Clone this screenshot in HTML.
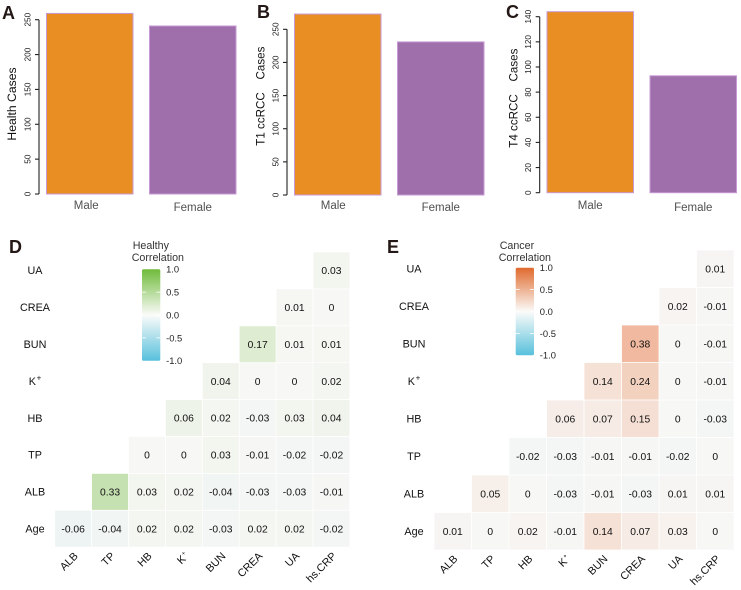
<!DOCTYPE html>
<html lang="en">
<head>
<meta charset="utf-8">
<title>Cases by sex and correlation heatmaps</title>
<style>
html,body{margin:0;padding:0;background:#fff;}
svg{display:block;font-family:"Liberation Sans",Arial,sans-serif;filter:blur(0.3px);}
</style>
</head>
<body>
<svg id="figure" width="741" height="590" viewBox="0 0 741 590" xmlns="http://www.w3.org/2000/svg">
  <defs>
    <linearGradient id="healthy-gradient" x1="0" y1="0" x2="0" y2="1">
      <stop offset="0" stop-color="#6fbb3b"/>
      <stop offset="0.5" stop-color="#fbfbf9"/>
      <stop offset="1" stop-color="#58c0dc"/>
    </linearGradient>
    <linearGradient id="cancer-gradient" x1="0" y1="0" x2="0" y2="1">
      <stop offset="0" stop-color="#e06a2e"/>
      <stop offset="0.5" stop-color="#fbfbf9"/>
      <stop offset="1" stop-color="#58c0dc"/>
    </linearGradient>
  </defs>
</svg>
<script>
const barCategories = ['Male', 'Female'];
const healthCases = [259, 241];
const t1Cases = [273, 231];
const t4Cases = [144, 93];
const healthTicks = [0, 50, 100, 150, 200, 250];
const t1Ticks = [0, 50, 100, 150, 200, 250];
const t4Ticks = [0, 20, 40, 60, 80, 100, 120, 140];

const columnLabels = ['ALB', 'TP', 'HB', 'K', 'BUN', 'CREA', 'UA', 'hs.CRP'];
const rowLabels = ['UA', 'CREA', 'BUN', 'K', 'HB', 'TP', 'ALB', 'Age'];
const healthyValues = [
  [null, null, null, null, null, null, null, 0.03],
  [null, null, null, null, null, null, 0.01, 0],
  [null, null, null, null, null, 0.17, 0.01, 0.01],
  [null, null, null, null, 0.04, 0, 0, 0.02],
  [null, null, null, 0.06, 0.02, -0.03, 0.03, 0.04],
  [null, null, 0, 0, 0.03, -0.01, -0.02, -0.02],
  [null, 0.33, 0.03, 0.02, -0.04, -0.03, -0.03, -0.01],
  [-0.06, -0.04, 0.02, 0.02, -0.03, 0.02, 0.02, -0.02]
];
const cancerValues = [
  [null, null, null, null, null, null, null, 0.01],
  [null, null, null, null, null, null, 0.02, -0.01],
  [null, null, null, null, null, 0.38, 0, -0.01],
  [null, null, null, null, 0.14, 0.24, 0, -0.01],
  [null, null, null, 0.06, 0.07, 0.15, 0, -0.03],
  [null, null, -0.02, -0.03, -0.01, -0.01, -0.02, 0],
  [null, 0.05, 0, -0.03, -0.01, -0.03, 0.01, 0.01],
  [0.01, 0, 0.02, -0.01, 0.14, 0.07, 0.03, 0]
];
const legendTicks = [1, 0.5, 0, -0.5, -1];

const svg = document.getElementById('figure');
const NS = 'http://www.w3.org/2000/svg';

function make(tag, attrs, parent, content) {
  const el = document.createElementNS(NS, tag);
  for (const k in attrs) el.setAttribute(k, attrs[k]);
  if (content !== undefined) el.textContent = content;
  (parent || svg).appendChild(el);
  return el;
}
function group(name) {
  const g = make('g', {});
  
  
  return g;
}
function label(parent, name, str, attrs) {
  const t = make('text', attrs, parent, str);
  
  
  return t;
}
function panelLetter(str, x, y) {
  label(svg, 'panel-label-' + str.toLowerCase(), str, {x: x, y: y, 'font-size': 18, 'font-weight': 'bold', fill: '#231815'});
}
function verticalLabel(parent, name, str, x, y, size, fill) {
  label(parent, name, str, {
    x: x, y: y, 'font-size': size, fill: fill, 'text-anchor': 'middle',
    'dominant-baseline': 'central', transform: 'rotate(-90 ' + x + ' ' + y + ')'
  });
}

function drawBars(name, values, ticks, layout, titles) {
  const g = group(name);
  const domainMax = ticks[ticks.length - 1];
  const y = v => layout.y0 - (layout.y0 - layout.yMax) * v / domainMax;
  const fills = ['#e88e22', '#9e6fab'];
  values.forEach(function (v, i) {
    const x = layout.barX[i];
    const bar = make('rect', {
      x: x, y: y(v), width: layout.barW, height: layout.y0 - y(v),
      fill: fills[i], stroke: '#c79ad6', 'stroke-width': 1
    }, g);
    
    
    label(g, 'category-label-' + barCategories[i].toLowerCase(), barCategories[i], {
      x: x + layout.barW / 2 + layout.labelShift[i], y: 209.2 + i * 1.6, 'text-anchor': 'middle',
      'font-size': 11.5, fill: '#505050'
    });
  });
  const axis = make('line', {x1: layout.axisX, x2: layout.axisX, y1: y(0), y2: y(domainMax), stroke: '#222', 'stroke-width': 1.1}, g);
  
  
  ticks.forEach(function (t) {
    const tick = make('line', {x1: layout.axisX - 4, x2: layout.axisX, y1: y(t), y2: y(t), stroke: '#222', 'stroke-width': 1.1}, g);
    
    
    verticalLabel(g, 'y-tick-label', String(t), layout.axisX - 11, y(t), 8.2, '#222');
  });
  titles.forEach(function (tt) {
    verticalLabel(g, 'y-axis-title', tt.text, layout.titleX, tt.y, tt.size, '#111');
  });
}

function hexToRgb(h) {
  return [parseInt(h.slice(1, 3), 16), parseInt(h.slice(3, 5), 16), parseInt(h.slice(5, 7), 16)];
}
function cellColor(v, high, low) {
  const base = [247, 247, 245];
  const target = hexToRgb(v >= 0 ? high : low);
  const t = Math.min(1, Math.abs(v) * (v >= 0 ? 1.1 : 0.9));
  const c = base.map((b, i) => Math.round(b + (target[i] - b) * t));
  return 'rgb(' + c.join(',') + ')';
}
function labelWithSup(parent, name, str, attrs, supSize) {
  const t = label(parent, name, str, attrs);
  if (str === 'K') {
    const s = make('tspan', {dx: 0.6, dy: -4.5, 'font-size': supSize}, t, '+');
    
    
  }
  return t;
}

function drawHeatmap(name, values, layout, high, low) {
  const g = group(name);
  const sx = c => layout.x + c * layout.cell;
  const sy = r => layout.y + r * layout.cell;
  values.forEach(function (row, r) {
    labelWithSup(g, 'row-label-' + rowLabels[r].toLowerCase(), rowLabels[r], {
      x: layout.rowX, y: sy(r) + layout.cell / 2 + 3.7, 'text-anchor': 'middle', 'font-size': 10.8, fill: '#111'
    }, 8);
    row.forEach(function (v, c) {
      if (v === null) return;
      const cell = make('rect', {
        x: sx(c) + 0.4, y: sy(r) + 0.4, width: layout.cell - 0.8, height: layout.cell - 0.8,
        fill: cellColor(v, high, low)
      }, g);
      
      
      label(g, 'cell-value', String(v), {
        x: sx(c) + layout.cell / 2, y: sy(r) + layout.cell / 2 + 3.6,
        'text-anchor': 'middle', 'font-size': 10.3, fill: '#111'
      });
    });
  });
  columnLabels.forEach(function (name2, c) {
    const ax = sx(c) + layout.cell / 2 + 5.5;
    const ay = sy(8) + 9.5;
    labelWithSup(g, 'column-label-' + name2.toLowerCase(), name2, {
      x: ax, y: ay, 'text-anchor': 'end', 'font-size': 10.8, fill: '#111',
      transform: 'rotate(-45 ' + ax + ' ' + ay + ')'
    }, 6);
  });
}

function drawLegend(name, titleA, gradient, layout) {
  const g = group(name);
  label(g, 'legend-title', titleA, {x: layout.titleX + 1, y: 249, 'font-size': 10.7, fill: '#333'});
  label(g, 'legend-title', 'Correlation', {x: layout.titleX, y: 261, 'font-size': 10.7, fill: '#333'});
  const bar = make('rect', {x: layout.x, y: layout.top, width: layout.w, height: layout.bottom - layout.top, rx: 1.5, fill: 'url(#' + gradient + ')'}, g);
  
  
  const y = v => layout.top + (1 - v) / 2 * (layout.bottom - layout.top);
  legendTicks.forEach(function (t) {
    const yy = y(t);
    if (Math.abs(t) === 0.5 || t === 0) {
      [layout.x, layout.x + layout.w - 4].forEach(function (tx) {
        const tk = make('line', {x1: tx, x2: tx + 4, y1: yy, y2: yy, stroke: '#fff', 'stroke-width': 0.8}, g);
        
        
      });
    }
    label(g, 'legend-tick-label', t.toFixed(1), {x: layout.x + layout.w + 5.8, y: yy + 3.4, 'font-size': 9.4, fill: '#222'});
  });
}

panelLetter('A', 2, 19);
panelLetter('B', 257, 18);
panelLetter('C', 506, 18);
panelLetter('D', 9, 253);
panelLetter('E', 387, 253);

drawBars('health-cases-chart', healthCases, healthTicks,
  {y0: 194, yMax: 19.7, axisX: 39, barX: [46.5, 149.5], barW: 86.5, titleX: 12, labelShift: [-3.5, 0]},
  [{text: 'Health Cases', y: 104, size: 12.2}]);
drawBars('t1-ccrcc-chart', t1Cases, t1Ticks,
  {y0: 195, yMax: 29.3, axisX: 287, barX: [294.5, 397.5], barW: 86.5, titleX: 261, labelShift: [-4.5, 0]},
  [{text: 'Cases', y: 63, size: 11.6}, {text: 'T1 ccRCC', y: 119, size: 11.6}]);
drawBars('t4-ccrcc-chart', t4Cases, t4Ticks,
  {y0: 192.7, yMax: 16.7, axisX: 539.7, barX: [547, 650], barW: 86.5, titleX: 514, labelShift: [0, 0]},
  [{text: 'Cases', y: 65, size: 11.6}, {text: 'T4 ccRCC', y: 121, size: 11.6}]);

drawHeatmap('healthy-correlation-heatmap', healthyValues, {x: 54.7, y: 252, cell: 36.9, rowX: 35}, '#6fbb3b', '#58c0dc');
drawHeatmap('cancer-correlation-heatmap', cancerValues, {x: 434, y: 250, cell: 37.5, rowX: 414}, '#e8662a', '#58c0dc');

drawLegend('healthy-legend', 'Healthy', 'healthy-gradient', {titleX: 131.7, x: 142, w: 18.3, top: 269.3, bottom: 360.7});
drawLegend('cancer-legend', 'Cancer', 'cancer-gradient', {titleX: 498.7, x: 515.7, w: 18.3, top: 267.7, bottom: 355.3});
</script>
</body>
</html>
